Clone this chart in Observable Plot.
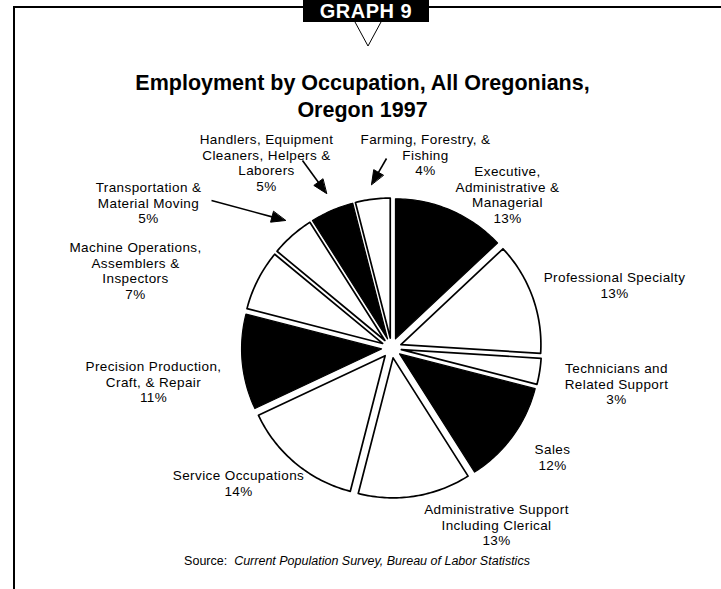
<!DOCTYPE html>
<html>
<head>
<meta charset="utf-8">
<script src="https://cdn.jsdelivr.net/npm/d3@7"></script>
<script src="https://cdn.jsdelivr.net/npm/@observablehq/plot@0.6"></script>
<style>
  html, body { margin: 0; padding: 0; background: #fff; }
  #page { position: relative; width: 721px; height: 589px; overflow: hidden;
          font-family: "Liberation Sans", Arial, Helvetica, sans-serif; color: #000; }
  #chart { position: absolute; left: 0; top: 122px; z-index: 1; }
  #chart svg text { letter-spacing: 0.4px; }
  .frameL { position: absolute; left: 13px; top: 6px; width: 2px; height: 583px; background: #000; z-index: 2; }
  .frameT { position: absolute; left: 13px; top: 6px; width: 708px; height: 2px; background: #000; z-index: 2; }
  .badge { position: absolute; left: 303px; top: 0; width: 126px; height: 22px; background: #000;
           color: #fff; font-weight: bold; font-size: 20px; line-height: 22px; text-align: center;
           letter-spacing: 0.5px; z-index: 3; }
  .vmark { position: absolute; left: 350px; top: 20px; z-index: 3; }
  .title { position: absolute; left: 0; top: 70px; width: 725px; text-align: center;
           font-weight: bold; font-size: 21.5px; line-height: 27px; z-index: 3; }
  .source { position: absolute; left: 0; top: 554px; width: 714px; text-align: center; font-size: 12.5px; z-index: 3; }
  .source i { font-style: italic; }
</style>
</head>
<body>
<div id="page">
  <div id="chart"></div>
  <div class="frameT"></div>
  <div class="frameL"></div>
  <div class="badge">GRAPH 9</div>
  <svg class="vmark" width="36" height="30"><polyline points="5,2 18,26 31,2" fill="none" stroke="#000" stroke-width="1"/></svg>
  <div class="title">Employment by Occupation, All Oregonians,<br>Oregon 1997</div>
  <div class="source">Source:&nbsp; <i>Current Population Survey, Bureau of Labor Statistics</i></div>
</div>
<script>
// ---- Data ----
const categories = [
  "Executive, Administrative & Managerial",
  "Professional Specialty",
  "Technicians and Related Support",
  "Sales",
  "Administrative Support Including Clerical",
  "Service Occupations",
  "Precision Production, Craft, & Repair",
  "Machine Operations, Assemblers & Inspectors",
  "Transportation & Material Moving",
  "Handlers, Equipment Cleaners, Helpers & Laborers",
  "Farming, Forestry, & Fishing"
];
const shares = [13, 13, 3, 12, 13, 14, 11, 7, 5, 5, 4];
const labelTexts = [
  "Executive,\nAdministrative &\nManagerial",
  "Professional Specialty",
  "Technicians and\nRelated Support",
  "Sales",
  "Administrative Support\nIncluding Clerical",
  "Service Occupations",
  "Precision Production,\nCraft, & Repair",
  "Machine Operations,\nAssemblers &\nInspectors",
  "Transportation &\nMaterial Moving",
  "Handlers, Equipment\nCleaners, Helpers &\nLaborers",
  "Farming, Forestry, &\nFishing"
];
const shading = ["dark", "light", "light", "dark", "light", "light", "dark", "light", "light", "dark", "light"];

// ---- Layout (page pixel coordinates) ----
const W = 721, TOP = 122, H = 430;
const CX = 391, CY = 347.5, R = 140, EXPLODE = 10;
// label block: [center x, top y]
const labelLayout = [
  [507, 164], [614, 270], [616, 361], [552, 442], [496, 502], [238, 468],
  [153, 359], [135, 240], [148, 180], [266, 132], [425, 132]
];
// arrows: [category index, tail x, tail y, tip x, tip y]
const arrowLayout = [
  [8, 211, 200, 285, 220],
  [9, 302, 160, 326, 193],
  [10, 386, 158, 371, 184]
];

// ---- Build slice polygons from the data ----
const arcs = d3.pie().sort(null).value(d => d).startAngle(0).endAngle(2 * Math.PI)(shares);
const slicePts = [];
arcs.forEach((a, i) => {
  const mid = (a.startAngle + a.endAngle) / 2;
  const ox = EXPLODE * Math.sin(mid), oy = -EXPLODE * Math.cos(mid);
  const name = categories[i], shade = shading[i];
  slicePts.push({name, shade, x: CX + ox, y: CY + oy});
  const n = Math.max(4, Math.ceil((a.endAngle - a.startAngle) / (Math.PI / 180)));
  for (let k = 0; k <= n; k++) {
    const t = a.startAngle + (a.endAngle - a.startAngle) * k / n;
    slicePts.push({name, shade, x: CX + ox + R * Math.sin(t), y: CY + oy - R * Math.cos(t)});
  }
});

const labels = categories.map((c, i) => ({
  name: c,
  text: labelTexts[i] + "\n" + shares[i] + "%",
  x: labelLayout[i][0],
  y: labelLayout[i][1]
}));

const arrowLines = [];
const arrowHeads = [];
arrowLayout.forEach(([i, x1, y1, x2, y2]) => {
  const dx = x2 - x1, dy = y2 - y1, len = Math.hypot(dx, dy);
  const ux = dx / len, uy = dy / len, L = 14, HW = 5.5;
  const bx = x2 - ux * L, by = y2 - uy * L;
  arrowLines.push({name: categories[i], x1, y1, x2: bx + ux * 2, y2: by + uy * 2});
  [[x2, y2], [bx - uy * HW, by + ux * HW], [bx + uy * HW, by - ux * HW]].forEach(([x, y]) =>
    arrowHeads.push({name: categories[i], x, y}));
});

const chart = Plot.plot({
  width: W,
  height: H,
  margin: 0,
  x: {domain: [0, W], range: [0, W], axis: null},
  y: {domain: [TOP, TOP + H], range: [0, H], axis: null},
  style: {fontFamily: "'Liberation Sans', Arial, sans-serif", background: "transparent"},
  marks: [
    Plot.line(slicePts.filter(d => d.shade === "light"), {
      x: "x", y: "y", z: "name", curve: "linear-closed",
      fill: "white", stroke: "black", strokeWidth: 1.7, strokeLinejoin: "round"
    }),
    Plot.line(slicePts.filter(d => d.shade === "dark"), {
      x: "x", y: "y", z: "name", curve: "linear-closed",
      fill: "black", stroke: "black", strokeWidth: 1.2, strokeLinejoin: "round"
    }),
    Plot.link(arrowLines, {x1: "x1", y1: "y1", x2: "x2", y2: "y2", stroke: "black", strokeWidth: 1.6}),
    Plot.line(arrowHeads, {x: "x", y: "y", z: "name", curve: "linear-closed", fill: "black", stroke: "black", strokeWidth: 1}),
    Plot.text(labels, {
      x: "x", y: "y", text: "text", textAnchor: "middle", lineAnchor: "top",
      fontSize: 13.5, lineHeight: 1.17, fill: "black"
    })
  ]
});
document.getElementById("chart").appendChild(chart);
</script>
</body>
</html>
